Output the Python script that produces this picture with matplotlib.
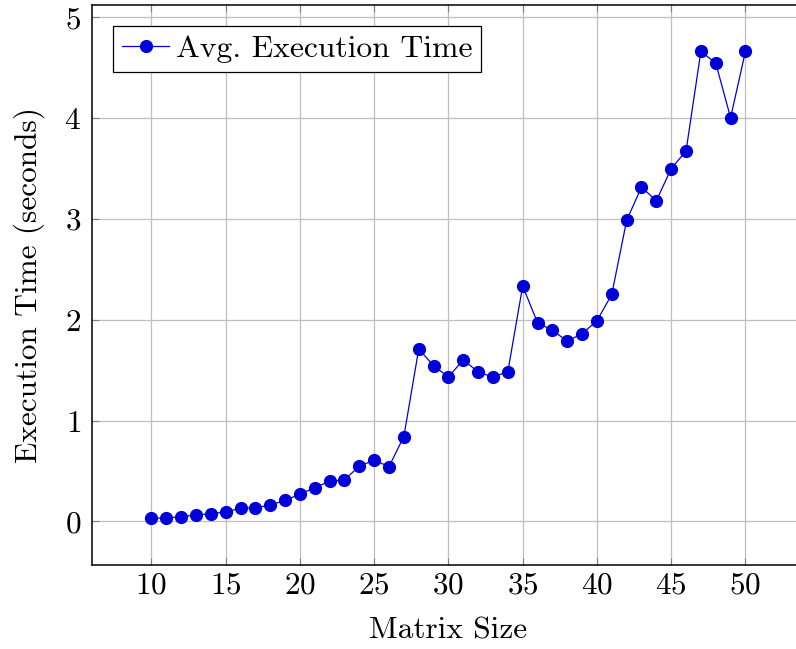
import numpy as np
import matplotlib.pyplot as plt

sizes = np.arange(10, 51)
times = [0.03, 0.035, 0.045, 0.065, 0.075, 0.095, 0.13, 0.136, 0.16, 0.21,
         0.268, 0.336, 0.397, 0.412, 0.548, 0.607, 0.543, 0.842, 1.71, 1.545,
         1.432, 1.604, 1.481, 1.432, 1.485, 2.335, 1.971, 1.895, 1.789, 1.862,
         1.99, 2.252, 2.986, 3.317, 3.18, 3.50, 3.674, 4.663, 4.547, 4.005, 4.663]
xticks = [10, 15, 20, 25, 30, 35, 40, 45, 50]
yticks = [0, 1, 2, 3, 4, 5]

plt.rcParams['font.family'] = ['cmr10', 'DejaVu Serif']
plt.rcParams['axes.formatter.use_mathtext'] = True

fig = plt.figure(figsize=(7.96, 6.49), dpi=100)
ax = fig.add_axes([0.1156, 0.1294, 0.8955, 0.8629])

ax.plot(sizes, times, color='#0000e0', lw=0.9, marker='o', ms=8.5,
        mec='#0000d8', mfc='#0000d8', label='Avg. Execution Time')

ax.set_xlim(6, 54)
ax.set_ylim(-0.433, 5.123)
ax.set_xticks(xticks)
ax.set_yticks(yticks)
ax.grid(True, color='#bfbfbf', lw=0.9)
ax.set_axisbelow(True)
ax.tick_params(direction='in', length=5, width=0.8, color='#808080',
               top=True, right=True, labelsize=22.5)
ax.tick_params(axis='x', pad=5)
ax.tick_params(axis='y', pad=8)
for s in ax.spines.values():
    s.set_linewidth(1.1)

ax.set_xlabel('Matrix Size', fontsize=22.5, labelpad=12)
ax.set_ylabel('Execution Time (seconds)', fontsize=22.5, labelpad=14)

leg = ax.legend(loc='upper left', fontsize=22.8, fancybox=False, framealpha=1,
                edgecolor='black', borderaxespad=0.66, handlelength=1.5,
                handletextpad=0.2, borderpad=0.28)
leg.get_frame().set_linewidth(0.9)

fig.savefig('out.png', dpi=100)
